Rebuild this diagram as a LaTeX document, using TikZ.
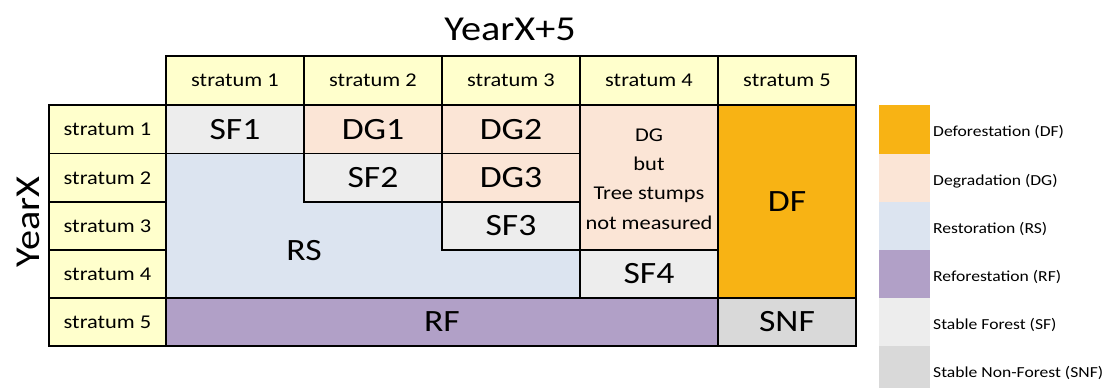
\documentclass[tikz,border=0pt]{standalone}
\usepackage{fontspec}
\setmainfont{Carlito}[FakeStretch=1.15]
\definecolor{hdr}{HTML}{FFFFCC}
\definecolor{sfc}{HTML}{EDEDED}
\definecolor{dgc}{HTML}{FBE5D6}
\definecolor{rsc}{HTML}{DCE4F0}
\definecolor{rfc}{HTML}{B1A0C7}
\definecolor{dfc}{HTML}{F8B314}
\definecolor{snfc}{HTML}{D9D9D9}
% grid lines (x) and (y)
\def\xA{49}\def\xB{166}\def\xC{304}\def\xD{442}\def\xE{580}\def\xF{718}\def\xG{856}
\def\yA{56}\def\yB{105}\def\yC{153.5}\def\yD{202}\def\yE{250}\def\yF{298}\def\yG{346}
\begin{document}
\begin{tikzpicture}[x=1pt,y=-1pt,
  grid/.style={line width=1.3pt, black, line cap=rect},
  smalllbl/.style={font=\fontsize{19.5}{22}\selectfont, inner sep=0pt},
  biglbl/.style={font=\fontsize{31}{36}\selectfont, inner sep=0pt},
  axislbl/.style={font=\fontsize{35}{40}\selectfont, inner sep=0pt, anchor=base},
  legtext/.style={font=\fontsize{15.3}{18}\selectfont, inner sep=0pt, anchor=base west}]
\useasboundingbox (0,0) rectangle (1107,388);

% header cells
\fill[hdr] (\xB,\yA) rectangle (\xG,\yB);
\fill[hdr] (\xA,\yB) rectangle (\xB,\yG);
% transition classes
\fill[sfc] (\xB,\yB) rectangle (\xC,\yC);
\fill[dgc] (\xC,\yB) rectangle (\xE,\yC);
\fill[dgc] (\xD,\yC) rectangle (\xE,\yD);
\fill[dgc] (\xE,\yB) rectangle (\xF,\yE);
\fill[sfc] (\xC,\yC) rectangle (\xD,\yD);
\fill[sfc] (\xD,\yD) rectangle (\xE,\yE);
\fill[sfc] (\xE,\yE) rectangle (\xF,\yF);
\fill[dfc] (\xF,\yB) rectangle (\xG,\yF);
\fill[rsc] (\xB,\yC) -- (\xC,\yC) -- (\xC,\yD) -- (\xD,\yD) -- (\xD,\yE)
  -- (\xE,\yE) -- (\xE,\yF) -- (\xB,\yF) -- cycle;
\fill[rfc] (\xB,\yF) rectangle (\xF,\yG);
\fill[snfc] (\xF,\yF) rectangle (\xG,\yG);

% borders
\draw[grid] (\xB,\yA) -- (\xG,\yA);
\draw[grid] (\xA,\yB) -- (\xG,\yB);
\draw[grid] (\xA,\yC) -- (\xE,\yC);
\draw[grid] (\xA,\yD) -- (\xB,\yD) (\xC,\yD) -- (\xE,\yD);
\draw[grid] (\xA,\yE) -- (\xB,\yE) (\xD,\yE) -- (\xF,\yE);
\draw[grid] (\xA,\yF) -- (\xG,\yF);
\draw[grid] (\xA,\yG) -- (\xG,\yG);
\draw[grid] (\xA,\yB) -- (\xA,\yG);
\draw[grid] (\xB,\yA) -- (\xB,\yG);
\draw[grid] (\xC,\yA) -- (\xC,\yD);
\draw[grid] (\xD,\yA) -- (\xD,\yE);
\draw[grid] (\xE,\yA) -- (\xE,\yF);
\draw[grid] (\xF,\yA) -- (\xF,\yG);
\draw[grid] (\xG,\yA) -- (\xG,\yG);

% axis titles
\node[axislbl] (ttop) at (510,40) {YearX+5};
\node[axislbl, rotate=90] (tleft) at (39,222) {YearX};

% column and row headers
\foreach \i/\cx in {1/235,2/373,3/511,4/649,5/787}
  \node[smalllbl] (col\i) at (\cx,80.5) {stratum \i};
\foreach \i/\cy in {1/129.25,2/177.75,3/226,4/274,5/322}
  \node[smalllbl] (row\i) at (107.5,\cy) {stratum \i};

% class labels
\node[biglbl] (sf1) at (235,129.25) {SF1};
\node[biglbl] (dg1) at (373,129.25) {DG1};
\node[biglbl] (dg2) at (511,129.25) {DG2};
\node[biglbl] (sf2) at (373,177.75) {SF2};
\node[biglbl] (dg3) at (511,177.75) {DG3};
\node[biglbl] (sf3) at (511,226) {SF3};
\node[biglbl] (sf4) at (649,274) {SF4};
\node[biglbl] (df) at (787,201.5) {DF};
\node[biglbl] (rs) at (304,251) {RS};
\node[biglbl] (rf) at (442,322) {RF};
\node[biglbl] (snf) at (787,322) {SNF};
% multi-line note: the base anchor sits on its last line
\node[smalllbl, align=center, anchor=base,
  font=\fontsize{19.5}{29.3}\selectfont] (dgnote) at (649,229)
  {DG\\but\\Tree stumps\\not measured};

% legend
\fill[dfc] (879,105) rectangle (930,153.5);
\fill[dgc] (879,153.5) rectangle (930,202);
\fill[rsc] (879,202) rectangle (930,250);
\fill[rfc] (879,250) rectangle (930,298);
\fill[sfc] (879,298) rectangle (930,346);
\fill[snfc] (879,346) rectangle (930,388);
\node[legtext] (legdf) at (933,136.5) {Deforestation (DF)};
\node[legtext] (legdg) at (933,185) {Degradation (DG)};
\node[legtext] (legrs) at (933,233.5) {Restoration (RS)};
\node[legtext] (legrf) at (933,281.5) {Reforestation (RF)};
\node[legtext] (legsf) at (933,329.5) {Stable Forest (SF)};
\node[legtext] (legsnf) at (933,377.5) {Stable Non-Forest (SNF)};
\end{tikzpicture}
\end{document}
